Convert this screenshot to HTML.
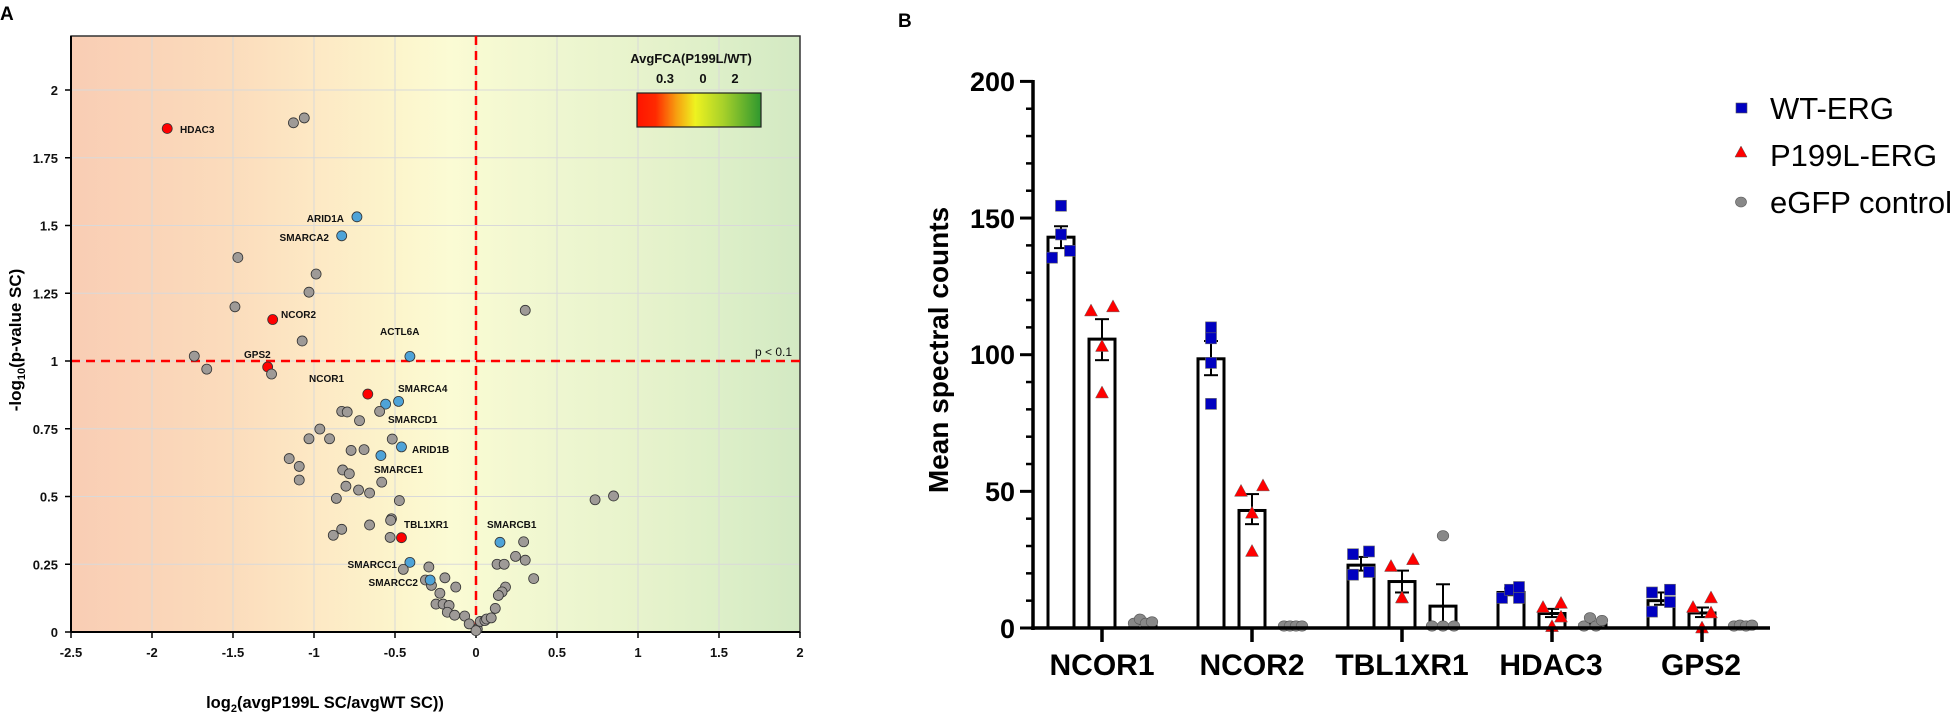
<!DOCTYPE html>
<html><head><meta charset="utf-8"><style>
html,body{margin:0;padding:0;background:#fff}
svg{display:block}
.lb{font-family:"Liberation Sans",sans-serif;font-size:10px;font-weight:bold;fill:#111}
.tk{font-family:"Liberation Sans",sans-serif;font-size:13px;font-weight:bold;fill:#111}
.bt{font-family:"Liberation Sans",sans-serif;font-weight:bold;fill:#000}
</style></head><body>
<svg id="s" width="1960" height="714" viewBox="0 0 1960 714" xmlns="http://www.w3.org/2000/svg">
<defs>
<linearGradient id="bg" x1="0" x2="1" y1="0" y2="0">
<stop offset="0" stop-color="#f9cdb4"/>
<stop offset="0.22" stop-color="#fbdcbc"/>
<stop offset="0.33" stop-color="#fde8c4"/>
<stop offset="0.45" stop-color="#fcf5cc"/>
<stop offset="0.52" stop-color="#fbfbd4"/>
<stop offset="0.56" stop-color="#f7fad2"/>
<stop offset="0.67" stop-color="#eef6d0"/>
<stop offset="0.78" stop-color="#e7f3cc"/>
<stop offset="0.89" stop-color="#ddefc8"/>
<stop offset="1" stop-color="#d3e9c3"/>
</linearGradient>
<linearGradient id="cb" x1="0" x2="1" y1="0" y2="0">
<stop offset="0" stop-color="#ff1400"/>
<stop offset="0.15" stop-color="#ff2a00"/>
<stop offset="0.32" stop-color="#f7a010"/>
<stop offset="0.47" stop-color="#eef220"/>
<stop offset="0.7" stop-color="#a6d02a"/>
<stop offset="1" stop-color="#2f982f"/>
</linearGradient>
</defs>
<text x="0" y="20" class="bt" font-size="19">A</text>
<rect x="71" y="36" width="729" height="596" fill="url(#bg)"/>
<g id="grid" stroke="#d9d9d9" stroke-width="1"></g>
<rect x="71" y="36" width="729" height="596" fill="none" stroke="#333" stroke-width="1.5"/>
<g id="ticksA"></g>
<line x1="476" y1="36" x2="476" y2="632" stroke="#ff0000" stroke-width="2.5" stroke-dasharray="9 6"/>
<line x1="71" y1="361" x2="800" y2="361" stroke="#ff0000" stroke-width="2.5" stroke-dasharray="9 6"/>
<line x1="71" y1="632" x2="800" y2="632" stroke="#000" stroke-width="2"/>
<line x1="71" y1="36" x2="71" y2="632" stroke="#000" stroke-width="2"/>
<g id="pts"></g>
<text class="lb" x="180" y="133">HDAC3</text>
<text class="lb" x="344" y="222" text-anchor="end">ARID1A</text>
<text class="lb" x="329" y="241" text-anchor="end">SMARCA2</text>
<text class="lb" x="281" y="318">NCOR2</text>
<text class="lb" x="380" y="335">ACTL6A</text>
<text class="lb" x="244" y="358">GPS2</text>
<text class="lb" x="309" y="382">NCOR1</text>
<text class="lb" x="398" y="392">SMARCA4</text>
<text class="lb" x="388" y="423">SMARCD1</text>
<text class="lb" x="412" y="453">ARID1B</text>
<text class="lb" x="374" y="473">SMARCE1</text>
<text class="lb" x="404" y="528">TBL1XR1</text>
<text class="lb" x="487" y="528">SMARCB1</text>
<text class="lb" x="397" y="568" text-anchor="end">SMARCC1</text>
<text class="lb" x="418" y="586" text-anchor="end">SMARCC2</text>
<text x="755" y="356" font-family="Liberation Sans,sans-serif" font-size="12" fill="#111">p &lt; 0.1</text>
<text x="691" y="63" text-anchor="middle" class="tk" font-size="12.5">AvgFCA(P199L/WT)</text>
<text x="665" y="83" text-anchor="middle" class="tk" font-size="12.5">0.3</text>
<text x="703" y="83" text-anchor="middle" class="tk" font-size="12.5">0</text>
<text x="735" y="83" text-anchor="middle" class="tk" font-size="12.5">2</text>
<rect x="637" y="93" width="124" height="34" fill="url(#cb)" stroke="#222" stroke-width="1.2"/>
<text class="bt" font-size="17" transform="translate(21,340) rotate(-90)" text-anchor="middle">-log<tspan font-size="11" dy="4">10</tspan><tspan dy="-4">(p-value SC)</tspan></text>
<text class="bt" font-size="16.5" x="325" y="708" text-anchor="middle">log<tspan font-size="11" dy="4">2</tspan><tspan dy="-4">(avgP199L SC/avgWT SC))</tspan></text>

<text x="898" y="27" class="bt" font-size="19">B</text>
<g id="B"></g>
<text class="bt" font-size="28" transform="translate(948,350) rotate(-90)" text-anchor="middle">Mean spectral counts</text>
<text class="bt" font-size="30" x="1102" y="675" text-anchor="middle">NCOR1</text>
<text class="bt" font-size="30" x="1252" y="675" text-anchor="middle">NCOR2</text>
<text class="bt" font-size="30" x="1402" y="675" text-anchor="middle">TBL1XR1</text>
<text class="bt" font-size="30" x="1551" y="675" text-anchor="middle">HDAC3</text>
<text class="bt" font-size="30" x="1701" y="675" text-anchor="middle">GPS2</text>
<text class="bt" font-size="27" x="1015" y="91" text-anchor="end">200</text>
<text class="bt" font-size="27" x="1015" y="228" text-anchor="end">150</text>
<text class="bt" font-size="27" x="1015" y="364" text-anchor="end">100</text>
<text class="bt" font-size="27" x="1015" y="501" text-anchor="end">50</text>
<text class="bt" font-size="27" x="1015" y="638" text-anchor="end">0</text>
<rect x="1736" y="103" width="11" height="10" fill="#0000c0" stroke="#555" stroke-width="0.6"/>
<polygon points="1741,146 1747,157 1735,157" fill="#f00" stroke="#555" stroke-width="0.5"/>
<ellipse cx="1741" cy="202" rx="5.5" ry="5" fill="#888" stroke="#555" stroke-width="0.6"/>
<text x="1770" y="119" font-family="Liberation Sans,sans-serif" font-size="31" fill="#000">WT-ERG</text>
<text x="1770" y="166" font-family="Liberation Sans,sans-serif" font-size="31" fill="#000">P199L-ERG</text>
<text x="1770" y="213" font-family="Liberation Sans,sans-serif" font-size="31" fill="#000">eGFP control</text>
<g id="yl"></g>
</svg>
<script>
var NS="http://www.w3.org/2000/svg";
function el(p,t,a){var e=document.createElementNS(NS,t);for(var k in a)e.setAttribute(k,a[k]);p.appendChild(e);return e;}
function px(x){return 476+162*x;} function py(y){return 632-271*y;}
var g=document.getElementById('grid'),ta=document.getElementById('ticksA');
for(var x=-2.5;x<=2.001;x+=0.5){el(g,'line',{x1:px(x),x2:px(x),y1:36,y2:632});el(ta,'line',{x1:px(x),x2:px(x),y1:632,y2:638,stroke:'#000','stroke-width':1.5});
var t=el(ta,'text',{x:px(x),y:657,'text-anchor':'middle','class':'tk'});t.textContent=(Math.round(x*10)/10).toString();}
var yl=[0,0.25,0.5,0.75,1,1.25,1.5,1.75,2];
yl.forEach(function(y){el(g,'line',{x1:71,x2:800,y1:py(y),y2:py(y)});el(ta,'line',{x1:65,x2:71,y1:py(y),y2:py(y),stroke:'#000','stroke-width':1.5});
var t=el(ta,'text',{x:58,y:py(y)+5,'text-anchor':'end','class':'tk'});t.textContent=y.toString();});
var G='#9e9a97',B='#4ea3d8',R='#ff0000';
var P=[[-1.906,1.858,R],[-1.127,1.879],[-1.06,1.897],[-0.735,1.532,B],[-0.829,1.462,B],[-1.47,1.382],[-0.987,1.321],[-1.031,1.254],[-1.488,1.2],[-1.255,1.153,R],[-1.073,1.074],[-0.408,1.017,B],[0.304,1.187],
[-1.739,1.018],[-1.662,0.97],[-1.286,0.978,R],[-1.262,0.952],[-0.668,0.878,R],[-0.558,0.841,B],[-0.478,0.851,B],[-0.829,0.814],[-0.795,0.812],[-0.595,0.814],[-0.719,0.78],[-0.964,0.749],[-1.031,0.713],[-0.904,0.713],[-0.517,0.712],[-0.46,0.683,B],[-0.771,0.67],[-0.691,0.673],[-0.587,0.651,B],[-1.153,0.64],[-1.091,0.611],[-0.823,0.598],[-0.782,0.584],[-1.091,0.561],[-0.582,0.553],[-0.803,0.538],[-0.725,0.524],[-0.657,0.513],[-0.862,0.493],[-0.473,0.485],[-0.522,0.418],[-0.527,0.412],[-0.657,0.395],[-0.829,0.379],[-0.881,0.357],[-0.53,0.349],[-0.46,0.348,R],[0.148,0.331,B],[0.294,0.333],[0.735,0.488],[0.849,0.502],[-0.408,0.257,B],[-0.449,0.231],[-0.291,0.24],[-0.312,0.192],[-0.275,0.172],[-0.283,0.192,B],[-0.192,0.2],[-0.125,0.166],[-0.223,0.143],[-0.247,0.103],[-0.203,0.103],[-0.166,0.098],[-0.177,0.073],[-0.132,0.062],[-0.07,0.059],[-0.042,0.03],[0.008,0.011],[0.0,0.005],[0.026,0.039],[0.055,0.042],[0.065,0.048],[0.094,0.052],[0.119,0.087],[0.13,0.25],[0.174,0.25],[0.244,0.279],[0.304,0.265],[0.356,0.197],[0.182,0.166],[0.161,0.148],[0.138,0.135]];
var pg=document.getElementById('pts');
P.forEach(function(p){el(pg,'circle',{cx:px(p[0]),cy:py(p[1]),r:5,fill:p[2]||G,stroke:'#333','stroke-width':0.8});});
var b=document.getElementById('B');
function vy(v){return 628-2.733*v;}
el(b,'line',{x1:1033,x2:1033,y1:80,y2:630,stroke:'#000','stroke-width':3.5});
for(var v=0;v<=200;v+=10){var maj=v%50==0;el(b,'line',{x1:maj?1020:1026,x2:1033,y1:vy(v),y2:vy(v),stroke:'#000','stroke-width':maj?3:2.5});}
var D=[
 [[143,147,139],[154.5,144,138,135.5],[105.7,113,98],[116,117.5,103,86],[1.5,0,0],[1,2.5,1,1.5]],
 [[98.5,105,92.5],[110,106,97,82],[43,49,38],[50,52,42,28],[0.3,0,0],[0,0,0,0]],
 [[23,26,21],[27,28,19.5,20.5],[17,21,13],[22.5,25,11,11],[8,16,0],[33,0,0,0]],
 [[13,14.5,12],[11,14,15,11],[5.3,7,4],[7.5,9,4,0.5],[1.3,0,0],[0,3,0,2]],
 [[10,13,8.5],[13,14,9.5,6],[5.5,7.5,4],[7.5,11,5.5,0],[0.3,0,0],[0,0.3,0,0.3]]];
for(var gi=0;gi<5;gi++){
 var x0=1048+150*gi;
 for(var s=0;s<3;s++){
  var bx=x0+41*s,bar=D[gi][s*2],pts=D[gi][s*2+1],cx=bx+13;
  if(bar[0]>0.5) el(b,'rect',{x:bx,y:vy(bar[0]),width:26,height:628-vy(bar[0]),fill:'#fff',stroke:'#000','stroke-width':3});
  if(bar[1]>bar[0]+0.3){el(b,'line',{x1:cx,x2:cx,y1:vy(bar[1]),y2:vy(bar[2]),stroke:'#000','stroke-width':2});
   el(b,'line',{x1:cx-7,x2:cx+7,y1:vy(bar[1]),y2:vy(bar[1]),stroke:'#000','stroke-width':2});
   el(b,'line',{x1:cx-7,x2:cx+7,y1:vy(bar[2]),y2:vy(bar[2]),stroke:'#000','stroke-width':2});}
  var ox=[[-8,8,-8,8],[-11,11,0,0],[-9,-3,3,9]][s];
  if(gi==0&&s==0) ox=[0,0,9,-9];
  if(gi==1&&s==0) ox=[0,0,0,0];
  if(gi==2&&s==2) ox=[0,-11,0,11];
  if(gi==3&&s==0) ox=[-9,-1,8,8];
  if(gi==3&&s==1) ox=[-9,9,9,0];
  if(gi==4&&s==0) ox=[-9,9,9,-9];
  if(gi==4&&s==1) ox=[-9,9,9,0];
  pts.forEach(function(v,i){var x=cx+ox[i],y=vy(v);
   if(s==0) el(b,'rect',{x:x-5.5,y:y-5.5,width:11,height:11,fill:'#0000c0',stroke:'#666','stroke-width':0.6});
   else if(s==1) el(b,'polygon',{points:(x)+','+(y-7)+' '+(x+6.5)+','+(y+5)+' '+(x-6.5)+','+(y+5),fill:'#f00',stroke:'#666','stroke-width':0.5});
   else el(b,'ellipse',{cx:x,cy:y-2,rx:5.8,ry:5.2,fill:'#888',stroke:'#555','stroke-width':0.6});});
 }
 el(b,'line',{x1:x0+54,x2:x0+54,y1:628,y2:642,stroke:'#000','stroke-width':3.5});
}
el(b,'line',{x1:1031,x2:1770,y1:628,y2:628,stroke:'#000','stroke-width':3.5});
</script>
</body></html>
